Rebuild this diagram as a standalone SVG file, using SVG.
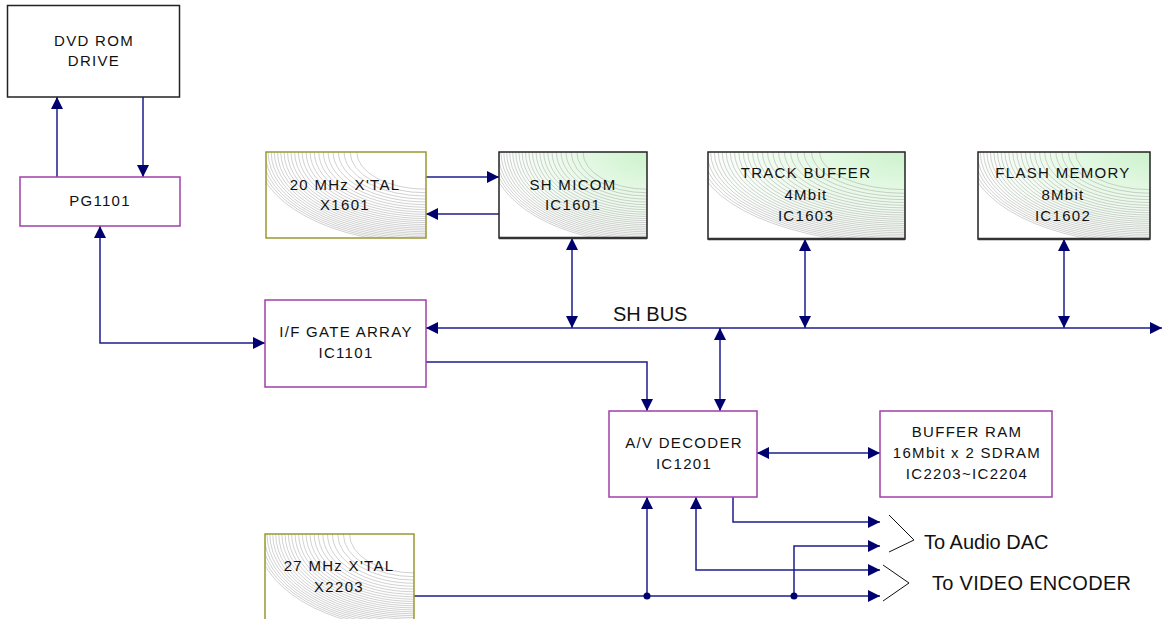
<svg xmlns="http://www.w3.org/2000/svg" xmlns:xlink="http://www.w3.org/1999/xlink" width="1162" height="619" viewBox="0 0 1162 619">
<style>
.lbl{font-family:"Liberation Sans",Arial,sans-serif;font-size:15px;letter-spacing:1.3px;fill:#111;text-anchor:middle}
.big{font-family:"Liberation Sans",Arial,sans-serif;font-size:20px;fill:#111}
.bk{fill:none;stroke:#222;stroke-width:1.5}
.pu{fill:#fff;stroke:#a040a8;stroke-width:1.5}
.ol{fill:none;stroke:#999933;stroke-width:1.5}
.c{fill:none;stroke:#1c1c8c;stroke-width:1.5}
.br{fill:none;stroke:#111;stroke-width:1}
.arc{fill:none;stroke:#aaaaaa;stroke-width:0.55}
</style>
<defs>
<marker id="ah" markerUnits="userSpaceOnUse" markerWidth="12" markerHeight="12" viewBox="0 0 12 12" refX="12" refY="6" orient="auto-start-reverse">
<path d="M0,0 L12,6 L0,12 z" fill="#00006e"/>
</marker>
<radialGradient id="gGreen" gradientUnits="objectBoundingBox" cx="1" cy="0" r="1.06" fx="1" fy="0">
<stop offset="0" stop-color="#ccf2cc"/>
<stop offset="0.5" stop-color="#e9fae9"/>
<stop offset="1" stop-color="#ffffff"/>
</radialGradient>
<g id="arcs" class="arc">
<circle r="0.4327" vector-effect="non-scaling-stroke"/>
<circle r="0.4741" vector-effect="non-scaling-stroke"/>
<circle r="0.512" vector-effect="non-scaling-stroke"/>
<circle r="0.5474" vector-effect="non-scaling-stroke"/>
<circle r="0.5806" vector-effect="non-scaling-stroke"/>
<circle r="0.612" vector-effect="non-scaling-stroke"/>
<circle r="0.6419" vector-effect="non-scaling-stroke"/>
<circle r="0.6704" vector-effect="non-scaling-stroke"/>
<circle r="0.6978" vector-effect="non-scaling-stroke"/>
<circle r="0.7241" vector-effect="non-scaling-stroke"/>
<circle r="0.7495" vector-effect="non-scaling-stroke"/>
<circle r="0.7741" vector-effect="non-scaling-stroke"/>
<circle r="0.7979" vector-effect="non-scaling-stroke"/>
<circle r="0.8211" vector-effect="non-scaling-stroke"/>
<circle r="0.8436" vector-effect="non-scaling-stroke"/>
<circle r="0.8655" vector-effect="non-scaling-stroke"/>
<circle r="0.8869" vector-effect="non-scaling-stroke"/>
<circle r="0.9077" vector-effect="non-scaling-stroke"/>
<circle r="0.9281" vector-effect="non-scaling-stroke"/>
<circle r="0.9481" vector-effect="non-scaling-stroke"/>
<circle r="0.9677" vector-effect="non-scaling-stroke"/>
<circle r="0.9868" vector-effect="non-scaling-stroke"/>
<circle r="1.0056" vector-effect="non-scaling-stroke"/>
<circle r="1.0241" vector-effect="non-scaling-stroke"/>
<circle r="1.0422" vector-effect="non-scaling-stroke"/>
<circle r="1.06" vector-effect="non-scaling-stroke"/>
</g>
</defs>
<rect width="1162" height="619" fill="#fff"/>

<g id="connectors">
<path class="c" d="M57,177 V97" marker-end="url(#ah)"/>
<path class="c" d="M143,97 V177" marker-end="url(#ah)"/>
<path class="c" d="M100,226 V343 H265" marker-start="url(#ah)" marker-end="url(#ah)"/>
<path class="c" d="M426,177 H499" marker-end="url(#ah)"/>
<path class="c" d="M499,214 H426" marker-end="url(#ah)"/>
<path class="c" d="M572,238 V328" marker-start="url(#ah)" marker-end="url(#ah)"/>
<path class="c" d="M805,239 V328" marker-start="url(#ah)" marker-end="url(#ah)"/>
<path class="c" d="M1064,239 V328" marker-start="url(#ah)" marker-end="url(#ah)"/>
<path class="c" d="M426,328 H1162" marker-start="url(#ah)" marker-end="url(#ah)"/>
<path class="c" d="M720,328 V411" marker-start="url(#ah)" marker-end="url(#ah)"/>
<path class="c" d="M426,362 H647 V411" marker-end="url(#ah)"/>
<path class="c" d="M757,453 H880" marker-start="url(#ah)" marker-end="url(#ah)"/>
<path class="c" d="M414,596 H880" marker-end="url(#ah)"/>
<path class="c" d="M647,596 V497" marker-end="url(#ah)"/>
<path class="c" d="M794,596 V546 H880" marker-end="url(#ah)"/>
<path class="c" d="M696,497 V570 H880" marker-start="url(#ah)" marker-end="url(#ah)"/>
<path class="c" d="M733,497 V522 H880" marker-end="url(#ah)"/>
<circle cx="647" cy="596" r="3.5" fill="#00006e"/>
<circle cx="794" cy="596" r="3.5" fill="#00006e"/>
<polyline class="br" points="889,515 914,540 889,552"/>
<polyline class="br" points="883,565 909,583 883,601"/>
<text class="big" x="613" y="321">SH BUS</text>
<text class="big" x="924" y="549">To Audio DAC</text>
<text class="big" x="932" y="590" letter-spacing="0.3">To VIDEO ENCODER</text>
</g>

<g id="dvd">
<rect class="bk" x="7.5" y="5.5" width="172" height="91.5" fill="#fff"/>
<text class="lbl" x="94" y="46">DVD ROM</text>
<text class="lbl" x="94" y="66">DRIVE</text>
</g>

<g id="pg1101">
<rect class="pu" x="20" y="177" width="160" height="49"/>
<text class="lbl" x="100" y="206">PG1101</text>
</g>

<g id="xtal20">
<svg x="266" y="152" width="160" height="86"><rect width="160" height="86" fill="#fff"/><use xlink:href="#arcs" transform="translate(160,0) scale(160,86)"/></svg>
<rect class="ol" x="266" y="152" width="160" height="86"/>
<text class="lbl" x="345" y="190">20 MHz X'TAL</text>
<text class="lbl" x="345" y="210">X1601</text>
</g>

<g id="micom">
<svg x="499" y="152" width="148" height="86"><rect width="148" height="86" fill="url(#gGreen)"/><use xlink:href="#arcs" transform="translate(148,0) scale(148,86)"/></svg>
<rect class="bk" x="499" y="152" width="148" height="86"/>
<line x1="499" y1="238" x2="647" y2="238" stroke="#333" stroke-width="2.5"/>
<text class="lbl" x="573" y="190">SH MICOM</text>
<text class="lbl" x="573" y="210">IC1601</text>
</g>

<g id="track">
<svg x="708" y="152" width="197" height="87"><rect width="197" height="87" fill="url(#gGreen)"/><use xlink:href="#arcs" transform="translate(197,0) scale(197,87)"/></svg>
<rect class="bk" x="708" y="152" width="197" height="87"/>
<line x1="708" y1="239" x2="905" y2="239" stroke="#333" stroke-width="2.5"/>
<text class="lbl" x="806" y="178">TRACK BUFFER</text>
<text class="lbl" x="806" y="200">4Mbit</text>
<text class="lbl" x="806" y="221">IC1603</text>
</g>

<g id="flash">
<svg x="978" y="152" width="172" height="87"><rect width="172" height="87" fill="url(#gGreen)"/><use xlink:href="#arcs" transform="translate(172,0) scale(172,87)"/></svg>
<rect class="bk" x="978" y="152" width="172" height="87"/>
<line x1="978" y1="239" x2="1150" y2="239" stroke="#333" stroke-width="2.5"/>
<text class="lbl" x="1063" y="178">FLASH MEMORY</text>
<text class="lbl" x="1063" y="200">8Mbit</text>
<text class="lbl" x="1063" y="221">IC1602</text>
</g>

<g id="ifgate">
<rect class="pu" x="265" y="300" width="161" height="87"/>
<text class="lbl" x="346" y="337">I/F GATE ARRAY</text>
<text class="lbl" x="346" y="358">IC1101</text>
</g>

<g id="avdec">
<rect class="pu" x="609" y="411" width="148" height="86"/>
<text class="lbl" x="684" y="448">A/V DECODER</text>
<text class="lbl" x="684" y="469">IC1201</text>
</g>

<g id="bufram">
<rect class="pu" x="880" y="411" width="172" height="86"/>
<text class="lbl" x="967" y="437">BUFFER RAM</text>
<text class="lbl" x="967" y="458">16Mbit x 2 SDRAM</text>
<text class="lbl" x="967" y="479">IC2203~IC2204</text>
</g>

<g id="xtal27">
<svg x="265" y="534" width="149" height="90"><rect width="149" height="90" fill="#fff"/><use xlink:href="#arcs" transform="translate(149,0) scale(149,90)"/></svg>
<rect class="ol" x="265" y="534" width="149" height="90"/>
<text class="lbl" x="339" y="571">27 MHz X'TAL</text>
<text class="lbl" x="339" y="592">X2203</text>
</g>
</svg>
